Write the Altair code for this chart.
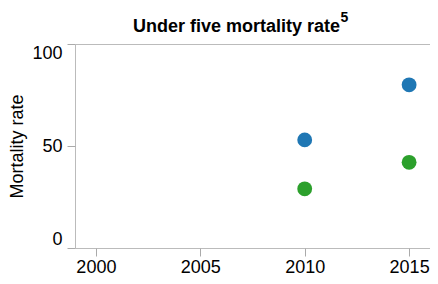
import altair as alt
import pandas as pd

years = [2010, 2015]
series_a = [53, 80]
series_b = [29, 42]
series_names = ["Series A", "Series B"]
colors = ["#1f77b4", "#2ca02c"]
x_ticks = [2000, 2005, 2010, 2015]
y_ticks = [0, 50, 100]
title_text = ["Under five mortality rate"]
title_sup = ["5"]

rows = []
for y, v in zip(years, series_a):
    rows.append({"year": y, "rate": v, "series": series_names[0]})
for y, v in zip(years, series_b):
    rows.append({"year": y, "rate": v, "series": series_names[1]})
df = pd.DataFrame(rows)
title_df = pd.DataFrame({"t": title_text})
sup_df = pd.DataFrame({"t": title_sup})

FONT = "Liberation Sans"

points = alt.Chart(df).mark_circle(size=220, opacity=1).encode(
    x=alt.X("year:Q",
            scale=alt.Scale(domain=[1999, 2016], nice=False, zero=False),
            axis=alt.Axis(values=x_ticks, format="d", title=None, grid=False,
                          domain=False, tickSize=8, tickColor="#aaaaaa",
                          labelFontSize=18, labelFont=FONT, labelColor="#000000",
                          labelPadding=2, labelFlush=False)),
    y=alt.Y("rate:Q",
            scale=alt.Scale(domain=[0, 100], nice=False),
            axis=alt.Axis(values=y_ticks, title="Mortality rate", grid=False,
                          domain=False, tickSize=8, tickColor="#aaaaaa",
                          labelFontSize=18, labelFont=FONT, labelColor="#000000",
                          labelPadding=5, labelFlush=True,
                          titleFontSize=18, titleFont=FONT, titleFontWeight="normal",
                          titleColor="#000000", titlePadding=5)),
    color=alt.Color("series:N", scale=alt.Scale(domain=series_names, range=colors),
                    legend=None),
)

title_mark = alt.Chart(title_df).mark_text(
    fontSize=18, font=FONT, fontWeight="bold", color="#000000",
    align="center", baseline="alphabetic",
).encode(
    text="t:N",
    x=alt.value(161.5),
    y=alt.value(-12.3),
)

sup = alt.Chart(sup_df).mark_text(
    fontSize=14, font=FONT, fontWeight="bold", color="#000000",
    align="left", baseline="alphabetic",
).encode(
    text="t:N",
    x=alt.value(265.5),
    y=alt.value(-21.7),
)

chart = alt.layer(points, title_mark, sup).properties(
    width=355,
    height=204,
    autosize=alt.AutoSizeParams(type="none"),
    padding={"left": 67, "top": 36, "right": 0, "bottom": 28},
).configure_view(stroke="#bbbbbb", strokeWidth=1)

chart.save("out.html", embed_options={"renderer": "svg", "actions": False})
